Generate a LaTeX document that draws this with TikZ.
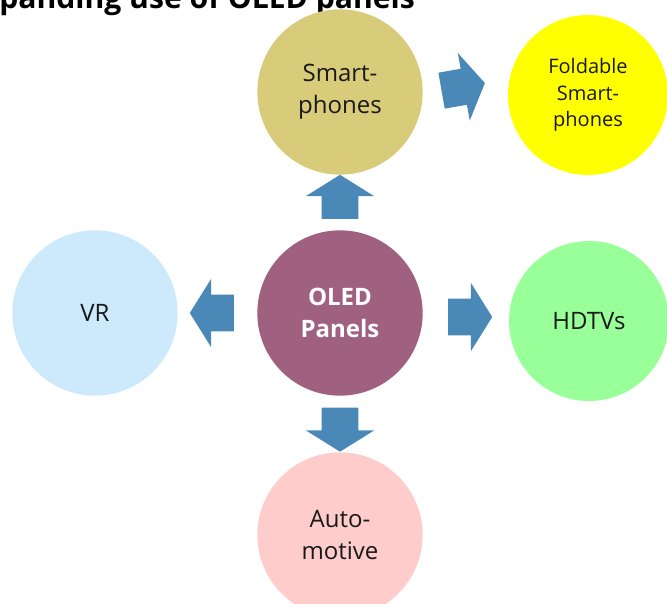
\documentclass[tikz,border=0pt]{standalone}
\usepackage{fontspec}
\setmainfont{Open Sans}
\usetikzlibrary{shapes.arrows,calc}
\definecolor{arrowcol}{RGB}{74,136,183}
\definecolor{smartcol}{RGB}{216,203,122}
\definecolor{foldcol}{RGB}{255,255,0}
\definecolor{oledcol}{RGB}{160,96,128}
\definecolor{vrcol}{RGB}{204,234,252}
\definecolor{hdtvcol}{RGB}{153,255,153}
\definecolor{autocol}{RGB}{255,204,204}
\tikzstyle{bubble}=[circle,draw=none,minimum size=124pt,inner sep=0pt,align=center,text=black!90,font=\fontsize{18}{24}\selectfont]
\tikzstyle{blockarrow}=[single arrow,fill=arrowcol,draw=none,inner xsep=0pt,inner ysep=13.5pt,minimum width=0pt,minimum height=33pt,single arrow head extend=12pt,single arrow tip angle=116]
\tikzstyle{heading}=[font=\bfseries\fontsize{22.6}{26}\selectfont,inner sep=0pt]

\begin{document}
\begin{tikzpicture}[x=0.75pt,y=-0.75pt]
    \useasboundingbox (0,0) rectangle (667,603);
    \clip (0,0) rectangle (667,603);
    % heading, cut off at the top
    \node[heading,anchor=base west] (title) at (-1,8) {panding use of OLED panels};

    % First the circles
    \node[bubble,fill=oledcol,text=white,font=\bfseries\fontsize{18}{24}\selectfont] (oled) at (340,313) {OLED\\Panels};
    \foreach \pos/ \name/ \col/ \txt in {{(340,92)/smart/smartcol/{Smart-\\phones}}, {(95,313)/vr/vrcol/VR}, {(340,535)/auto/autocol/{Auto-\\motive}}}
        \node[bubble,fill=\col] (\name) at \pos {\txt};
    \node[bubble,fill=hdtvcol,minimum size=120pt] (hdtv) at (589,321) {HDTVs};
    \node[bubble,fill=foldcol,minimum size=120pt,font=\fontsize{15}{20}\selectfont] (fold) at (588,95) {Foldable\\Smart-\\phones};

    % Then the block arrows between them
    \foreach \source/ \dest/ \ang/ \aname in {oled/smart/90/aup, oled/auto/-90/adown, oled/vr/180/aleft, oled/hdtv/0/aright}
        \node[blockarrow,rotate=\ang] (\aname) at ($(\source)!0.5!(\dest)$) {};
    \node[blockarrow,rotate=10,yshift=5pt,xshift=-4pt] (anext) at ($(smart)!0.5!(fold)$) {};
\end{tikzpicture}
\end{document}
